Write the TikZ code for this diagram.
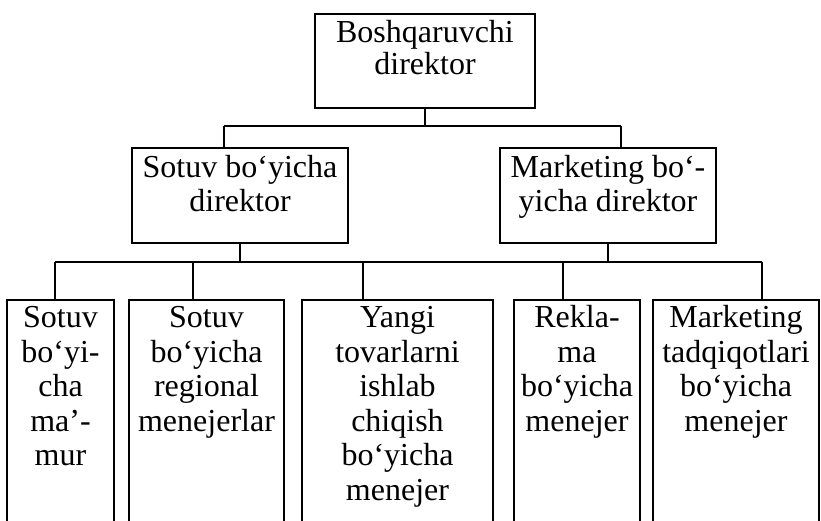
\documentclass[tikz,border=0pt]{standalone}
\usepackage{fontspec}
\setmainfont{Liberation Serif}
\newcommand{\stk}[1]{\begin{tabular}[t]{@{}c@{}}#1\end{tabular}}
\begin{document}
\begin{tikzpicture}[x=1pt,y=-1pt,
  box/.style={draw, line width=1.6pt, anchor=north, inner xsep=0pt, inner ysep=8pt,
    text height=22pt, font={\fontsize{32}{34.5}\selectfont}},
  wire/.style={line width=1.5pt}]
\useasboundingbox (0,0) rectangle (821,520);
\fill[white] (0,0) rectangle (821,520);
\clip (0,0) rectangle (821,520);
% nodes
\node[box, minimum width=220pt, text height=21pt, text depth=57pt,
  font={\fontsize{32}{31}\selectfont}] (top) at (425,13) {\stk{Boshqaruvchi\\direktor}};
\node[box, minimum width=216pt, text depth=57pt, font={\fontsize{32}{34}\selectfont}] (l2a) at (240,147) {\stk{Sotuv bo‘yicha\\direktor}};
\node[box, minimum width=216pt, text depth=57pt, font={\fontsize{32}{34}\selectfont}] (l2b) at (608,147) {\stk{Marketing bo‘-\\yicha direktor}};
\node[box, text height=20pt, minimum width=107pt, text depth=240pt] (b1) at (60.5,299) {\stk{Sotuv\\bo‘yi-\\cha\\ma’-\\mur}};
\node[box, text height=20pt, minimum width=155pt, text depth=240pt] (b2) at (206.5,299) {\stk{Sotuv\\bo‘yicha\\regional\\menejerlar}};
\node[box, text height=20pt, minimum width=191pt, text depth=240pt] (b3) at (397.5,299) {\stk{Yangi\\tovarlarni\\ishlab\\chiqish\\bo‘yicha\\menejer}};
\node[box, text height=20pt, minimum width=126pt, text depth=240pt] (b4) at (577,299) {\stk{Rekla-\\ma\\bo‘yicha\\menejer}};
\node[box, text height=20pt, minimum width=166pt, text depth=240pt] (b5) at (736,299) {\stk{Marketing\\tadqiqotlari\\bo‘yicha\\menejer}};
% bus coordinates
\coordinate (busA1) at (224,126);
\coordinate (busA2) at (621,126);
\coordinate (busB1) at (55,262);
\coordinate (busB2) at (193,262);
\coordinate (busB3) at (363,262);
\coordinate (busB4) at (563,262);
\coordinate (busB5) at (762,262);
% connectors
\draw[wire] (top.south) -- (top.south |- busA1);
\draw[wire] (busA1) -- (busA2);
\draw[wire] (busA1) -- (busA1 |- l2a.north);
\draw[wire] (busA2) -- (busA2 |- l2b.north);
\draw[wire] (l2a.south) -- (l2a.south |- busB1);
\draw[wire] (l2b.south) -- (l2b.south |- busB1);
\draw[wire] (busB1) -- (busB5);
\draw[wire] (busB1) -- (busB1 |- b1.north);
\draw[wire] (busB2) -- (busB2 |- b2.north);
\draw[wire] (busB3) -- (busB3 |- b3.north);
\draw[wire] (busB4) -- (busB4 |- b4.north);
\draw[wire] (busB5) -- (busB5 |- b5.north);
\end{tikzpicture}
\end{document}
